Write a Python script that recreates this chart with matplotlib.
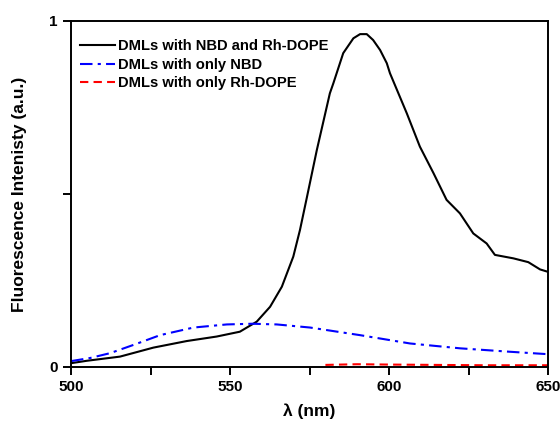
import numpy as np
import matplotlib.pyplot as plt
from matplotlib.ticker import MultipleLocator

plt.rcParams['font.family'] = ['Liberation Sans', 'DejaVu Sans']
plt.rcParams['font.weight'] = 'bold'

# DMLs with NBD and Rh-DOPE
wl_both = [500, 505, 515.4, 525.9, 536.4, 545.8, 553.1, 558.4, 562.6, 566.3, 569.9, 572.0,
           574.1, 577.3, 581.4, 582.5, 585.6, 588.8, 590.9, 593.0, 595.0, 597.2, 599.3,
           600.3, 605.6, 609.7, 614.0, 618.1, 622.3, 626.5, 630.7, 633.3, 639.1, 643.8,
           647.5, 650]
int_both = [0.011, 0.018, 0.030, 0.056, 0.075, 0.088, 0.102, 0.131, 0.174, 0.232, 0.319, 0.396,
            0.487, 0.627, 0.791, 0.82, 0.907, 0.95, 0.962, 0.962, 0.945, 0.916, 0.878,
            0.849, 0.733, 0.637, 0.56, 0.483, 0.444, 0.386, 0.357, 0.324, 0.314, 0.303,
            0.282, 0.275]

# DMLs with only NBD
wl_nbd = [500, 506, 512.3, 520, 528.0, 538.5, 549, 557, 564.7, 575.2, 590.9, 606.6, 622.3,
          638.1, 650]
int_nbd = [0.017, 0.026, 0.040, 0.065, 0.092, 0.114, 0.123, 0.125, 0.123, 0.114, 0.092,
           0.068, 0.054, 0.044, 0.037]

# DMLs with only Rh-DOPE
wl_rh = [580, 590, 600, 615, 630, 650]
int_rh = [0.006, 0.008, 0.007, 0.006, 0.005, 0.005]

fig = plt.figure(figsize=(5.6, 4.23), dpi=100)
ax = fig.add_axes([0.1268, 0.1324, 0.8518, 0.818])

ax.plot(wl_both, int_both, color='black', lw=1.5, label='DMLs with NBD and Rh-DOPE')
ax.plot(wl_nbd, int_nbd, color='blue', lw=1.5, ls=(0, (6, 2.5, 1.5, 2.5)), label='DMLs with only NBD')
ax.plot(wl_rh, int_rh, color='red', lw=1.5, ls=(0, (4, 2.5)), label='DMLs with only Rh-DOPE')

ax.set_xlim(500, 650)
ax.set_ylim(0, 1)
ax.xaxis.set_major_locator(MultipleLocator(50))
ax.xaxis.set_minor_locator(MultipleLocator(25))
ax.set_yticks([0, 0.5, 1])
ax.set_yticklabels(['0', '', '1'])
ax.tick_params(which='both', direction='out', width=1.4, length=6, labelsize=11)
for s in ax.spines.values():
    s.set_linewidth(1.4)

ax.set_xlabel('λ (nm)', fontsize=12.5, fontweight='bold', labelpad=7)
ax.set_ylabel('Fluorescence Intenisty (a.u.)', fontsize=12.5, fontweight='bold', labelpad=16)

ax.legend(loc='upper left', bbox_to_anchor=(0.019, 0.947), frameon=False, fontsize=10.6,
          handlelength=2.4, handletextpad=0.15, labelspacing=0.3,
          borderpad=0, borderaxespad=0)

fig.savefig('out.png', dpi=100)
